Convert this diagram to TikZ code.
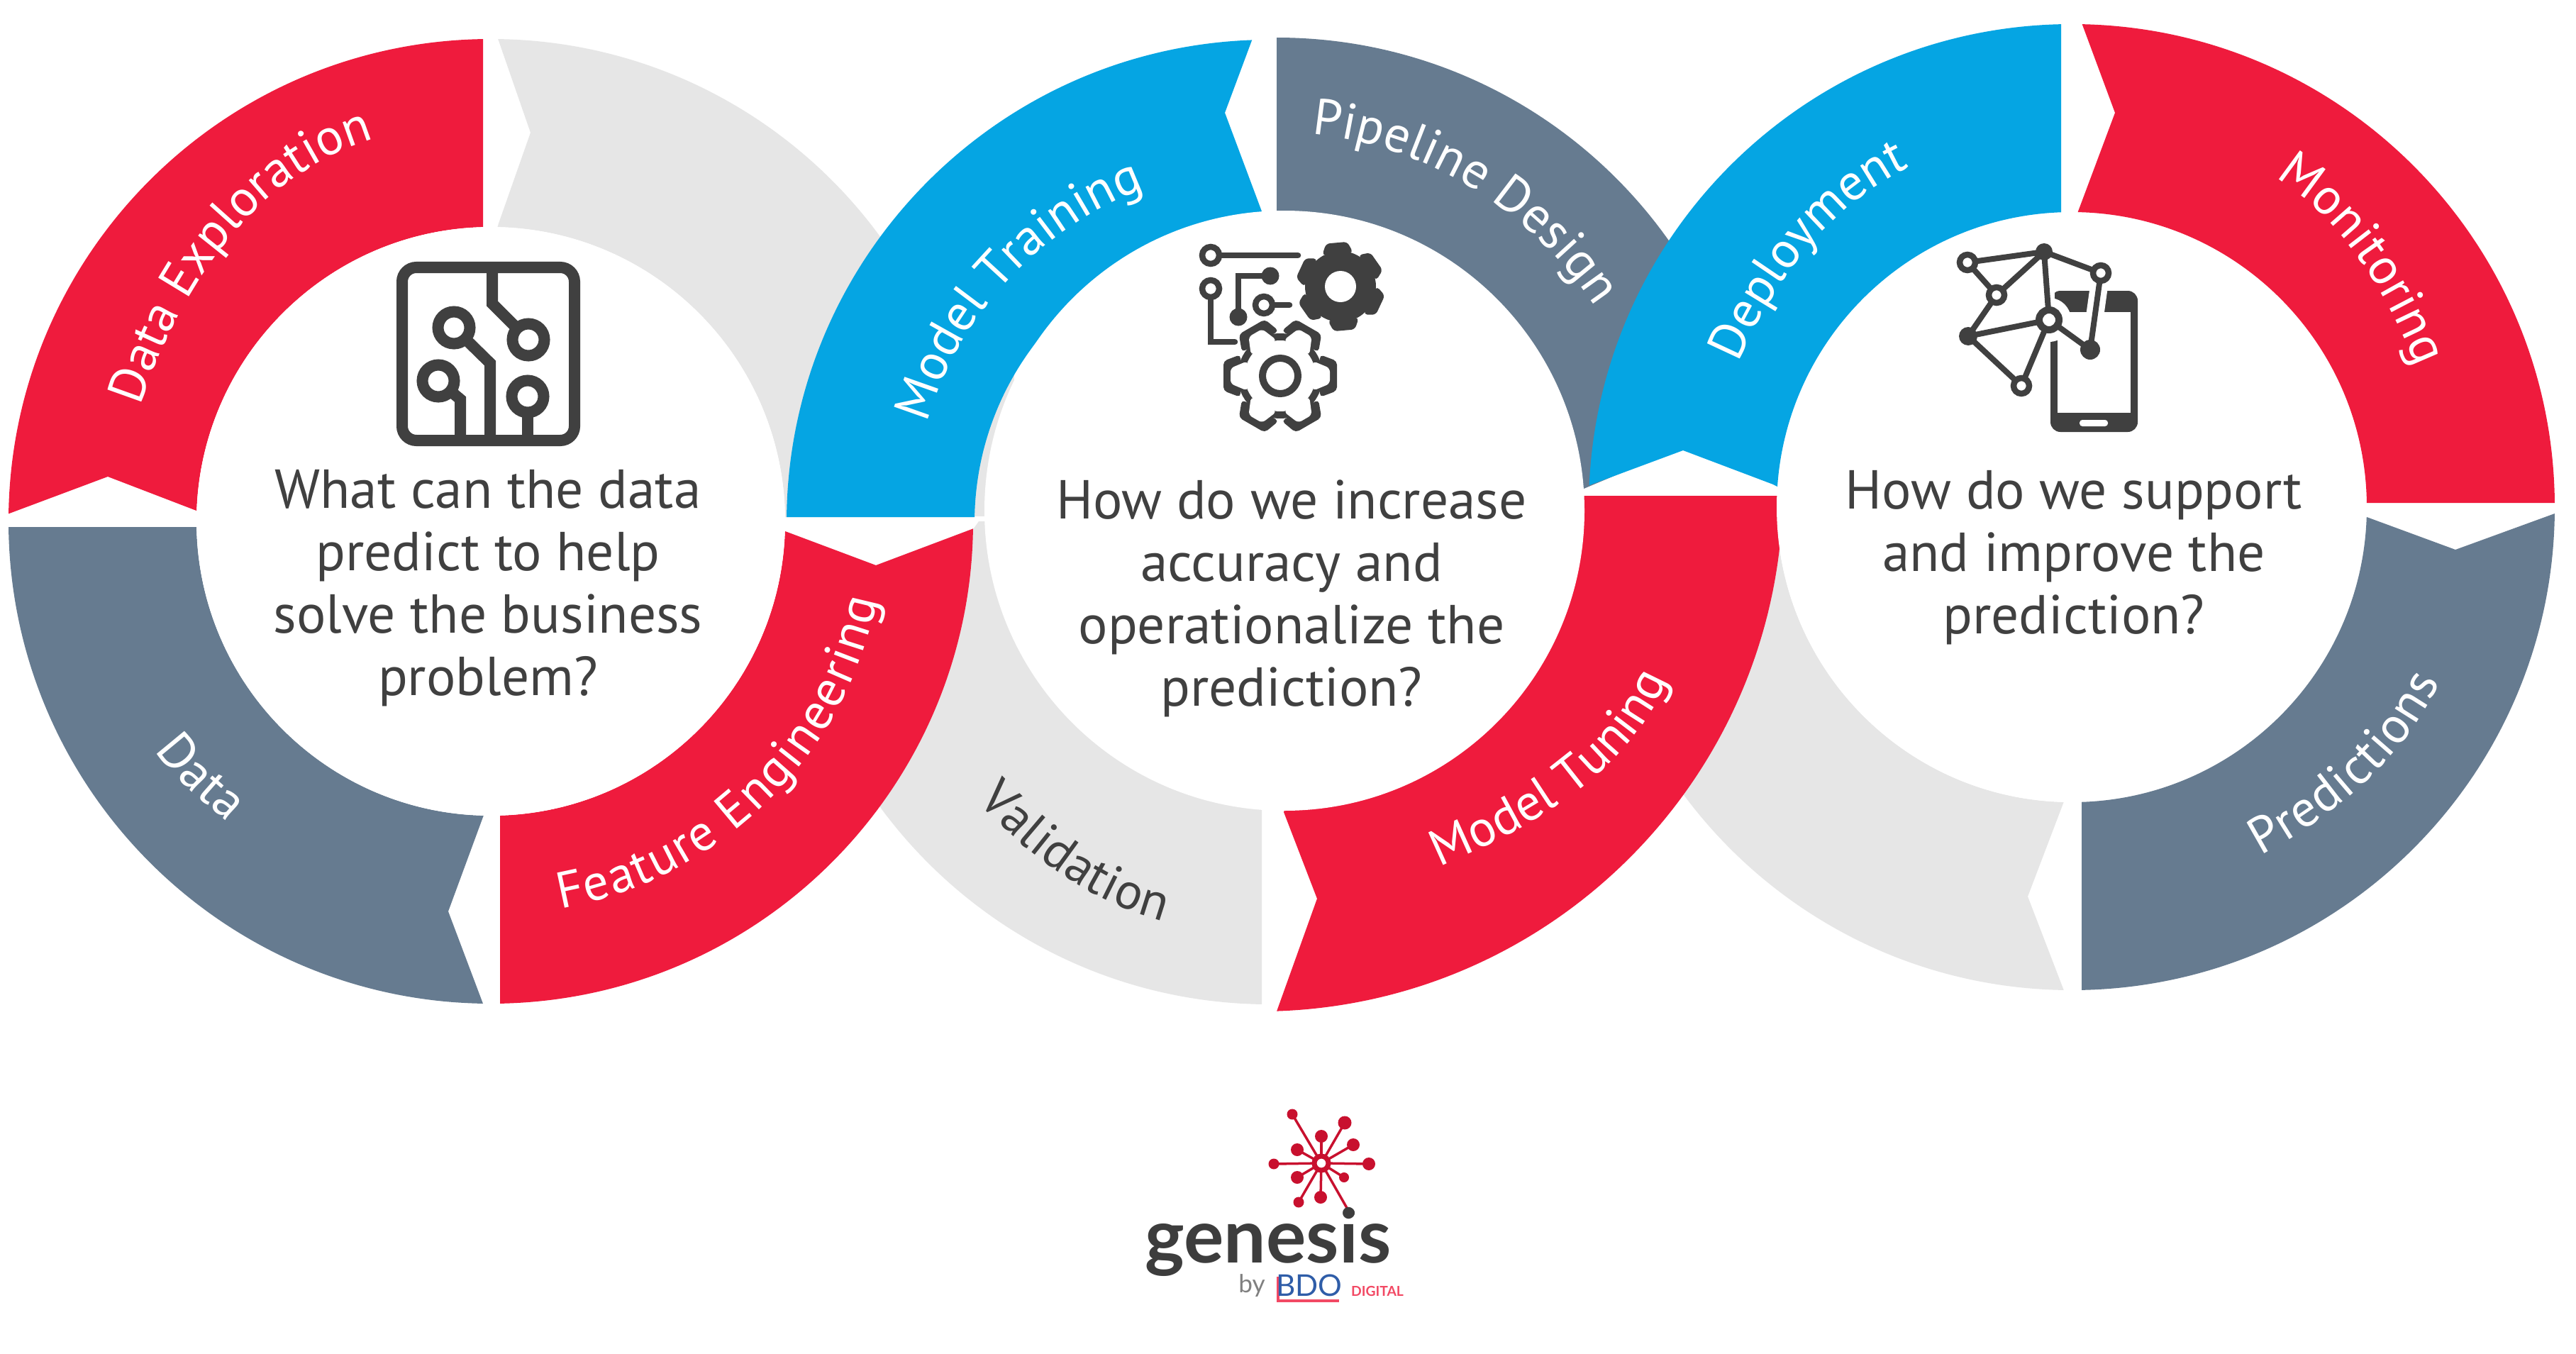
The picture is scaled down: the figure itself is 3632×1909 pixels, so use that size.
\documentclass[tikz,border=0pt]{standalone}
\usepackage{fontspec}
\setmainfont{PT Sans}
\newfontfamily\logofont{Lato}
\usetikzlibrary{decorations.text}
\definecolor{rred}{HTML}{EF1B3D}
\definecolor{slate}{HTML}{667B90}
\definecolor{sky}{HTML}{05A5E3}
\definecolor{pale}{HTML}{E6E6E6}
\definecolor{ink}{HTML}{404040}
\definecolor{lred}{HTML}{C8102E}
\definecolor{bdoblue}{HTML}{2F5DA8}
\newcommand{\ringseg}[6]{\begin{scope}\clip #6;\fill[#1,even odd rule] (#2,#3) circle[radius=#4] (#2,#3) circle[radius=#5];\end{scope}}
% colour, cx, cy, r1, r2, a1, a2, text: baseline runs from (r1,a1) to (r2,a2)
\newcommand{\arclabel}[8]{%
\pgfmathsetmacro{\kk}{4/3*tan((#7-(#6))/4)}%
\pgfmathsetmacro{\sx}{#2+#4*cos(#6)}\pgfmathsetmacro{\sy}{#3+#4*sin(#6)}%
\pgfmathsetmacro{\ex}{#2+#5*cos(#7)}\pgfmathsetmacro{\ey}{#3+#5*sin(#7)}%
\pgfmathsetmacro{\cax}{\sx-\kk*#4*sin(#6)}\pgfmathsetmacro{\cay}{\sy+\kk*#4*cos(#6)}%
\pgfmathsetmacro{\cbx}{\ex+\kk*#5*sin(#7)}\pgfmathsetmacro{\cby}{\ey-\kk*#5*cos(#7)}%
\path[decorate,decoration={text along path,text align={fit to path},text={|\lblfont\color{#1}|#8}}]
 (\sx,\sy) .. controls (\cax,\cay) and (\cbx,\cby) .. (\ex,\ey);}
\newcommand{\lblfont}{\fontsize{20.5}{24}\selectfont}
\newcommand{\gearshape}[8]{% cx cy ro ri offset colour roothalf outerhalf
\begin{scope}[shift={(#1,#2)}]
\fill[#6] (0,0) circle[radius=#4];
\foreach \a in {0,60,...,300}{\begin{scope}[rotate=#5+\a]
\fill[#6,rounded corners=1.5pt] (#4-4,-#7) -- (#3,-#8) -- (#3,#8) -- (#4-4,#7) -- cycle;
\end{scope}}
\end{scope}}
\tikzset{
 ctext/.style={text=ink,font=\fontsize{22}{25}\selectfont,align=center,inner sep=0pt,anchor=base},
 icon/.style={draw=ink,line width=0.16cm},
 thin icon/.style={draw=ink,line width=0.085cm,line cap=round},
 netedge/.style={draw=ink,line width=0.08cm},
 nring/.style={draw=ink,fill=white,line width=0.085cm},
 ndot/.style={fill=ink},
 spoke/.style={draw=lred,line width=0.035cm},
 logodot/.style={fill=lred}
}
\begin{document}
\begin{tikzpicture}[x=0.01cm,y=-0.01cm]
\fill[white] (0,0) rectangle (3632,1909);
\useasboundingbox (0,0) rectangle (3632,1909);
% ---------- greys below everything
\ringseg{pale}{692}{735}{680}{415}{(697,40) -- (748,187) -- (703,315) -- (695,342) -- (695,729) -- (1400,729) -- (1400,40) -- cycle}
\fill[pale] (1360,487) rectangle (1430,728);
\ringseg{pale}{1790}{735}{681}{300}{(1779,1450) -- (1779,735) -- (1380,735) -- (1373,745) -- (1235,797) -- (1107,749) -- (1000,749) -- (1000,1450) -- cycle}
% ---------- ring 1
\ringseg{rred}{692}{735}{680}{415}{(681,-20) -- (-60,-20) -- (-60,747) -- (13,724) -- (152,672) -- (277,720) -- (400,766) -- (681,735) -- cycle}
\ringseg{slate}{692}{735}{680}{415}{(-20,743) -- (691,743) -- (691,1125) -- (681,1152) -- (632,1285) -- (681,1415) -- (700,1465) -- (-20,1465) -- cycle}
\ringseg{rred}{692}{735}{680}{415}{(705,1470) -- (705,830) -- (1090,743) -- (1107,749) -- (1235,797) -- (1373,745) -- (1430,723) -- (1430,1470) -- cycle}
\fill[white] (692,735) circle[radius=415];
% ---------- ring 2 upper
\ringseg{slate}{1800}{730}{677}{300}{(1800,0) -- (1800,689) -- (2233,689) -- (2373,630) -- (2500,0) -- cycle}
\ringseg{sky}{1790}{737}{681}{416}{(1040,729) -- (1790,729) -- (1790,327) -- (1779,298) -- (1727,159) -- (1765,57) -- (1780,17) -- (1040,17) -- cycle}
% ---------- ring 3 grey
\ringseg{pale}{2921}{715}{681}{416}{(2300,725) -- (2925,725) -- (2925,1088) -- (2910,1130) -- (2859,1264) -- (2909,1394) -- (2925,1440) -- (2300,1440) -- cycle}
% model tuning
\ringseg{rred}{1775}{687}{739}{300}{(1815,1130) -- (1810,1145) -- (1857,1267) -- (1800,1426) -- (1790,1450) -- (2600,1450) -- (2600,699) -- (1815,699) -- cycle}
\fill[white] (1811,720) circle[radius=423];
% ring 3 upper and right
\fill[white] (2921,715) circle[radius=416];
\ringseg{sky}{2921}{715}{681}{416}{(2906,0) -- (2906,694) -- (2600,735) -- (2500,683) -- (2373,635) -- (2233,687) -- (2150,717) -- (2150,0) -- cycle}
\ringseg{rred}{2921}{715}{681}{416}{(2936,35) -- (2982,159) -- (2930,298) -- (2921,323) -- (2921,709) -- (3680,709) -- (3680,0) -- (2923,0) -- cycle}
\ringseg{slate}{2921}{715}{681}{416}{(2935,1440) -- (2935,830) -- (3320,723) -- (3337,729) -- (3462,775) -- (3602,724) -- (3680,696) -- (3680,1440) -- cycle}
% ---------- curved labels
\arclabel{white}{692}{735}{520}{564}{198.2}{253.1}{Data Exploration}
\arclabel{white}{692}{735}{573}{564}{145.7}{131.1}{Data}
\arclabel{white}{692}{735}{555}{556}{79.8}{11.5}{Feature Engineering}
\arclabel{white}{1790}{737}{503}{503}{196.2}{248.7}{Model Training}
\arclabel{white}{1800}{730}{543}{538}{275.2}{326.5}{Pipeline Design}
\arclabel{ink}{1790}{735}{571}{584}{136.3}{104.9}{Validation}
\arclabel{white}{1811}{720}{548}{590}{66.5}{25}{Model Tuning}
\arclabel{white}{2921}{715}{512}{531}{203.4}{244.4}{Deployment}
\arclabel{white}{2921}{715}{546}{525}{301.7}{337.3}{Monitoring}
\arclabel{white}{2921}{715}{559}{575}{61.6}{25.4}{Predictions}
% ---------- central texts
\node[ctext] (q1) at (688,980) {What can the data\\predict to help\\solve the business\\problem?};
\node[ctext] (q2) at (1821,995) {How do we increase\\accuracy and\\operationalize the\\prediction?};
\node[ctext] (q3) at (2924,893) {How do we support\\and improve the\\prediction?};
% ---------- icon 1
\draw[icon,rounded corners=0.2cm] (567,377) rectangle (810,621);
\draw[icon] (694,377) -- (694,428) -- (745,479);
\draw[icon] (640,462) -- (691,512) -- (691,621);
\draw[icon] (618,537) -- (649,563) -- (649,621);
\draw[icon] (744,559) -- (744,621);
\foreach \cx/\cy in {640/462,745/479,618/537,744/559}
  \draw[icon,fill=white] (\cx,\cy) circle[radius=22.5];
% ---------- icon 2
\gearshape{1890}{404}{62}{50}{-25}{ink}{22}{15}
\fill[white] (1890,404) circle[radius=22];
\draw[thin icon] (1707,360) -- (1830,360);
\draw[thin icon] (1707,407) -- (1707,482) -- (1741,482);
\draw[thin icon] (1791,389) -- (1746,389) -- (1746,447);
\draw[thin icon] (1782,430) -- (1818,430);
\foreach \cx/\cy in {1707/360,1707/407,1782/430} \draw[thin icon,fill=white] (\cx,\cy) circle[radius=12];
\fill[ink] (1791,389) circle[radius=12.5] (1746,447) circle[radius=12.5];
\gearshape{1805}{530}{80}{60}{0}{ink}{30}{21}
\gearshape{1805}{530}{70}{50}{0}{white}{21}{11}
\draw[ink,line width=0.1cm] (1805,530) circle[radius=25];
% ---------- icon 3 phone
\fill[ink,rounded corners=0.14cm] (2891,410) rectangle (3014,609);
\fill[white] (2901,440) rectangle (3004,582);
\fill[white,rounded corners=0.04cm] (2932,592) rectangle (2972,601);
\fill[white] (2880,400) rectangle (2897,477);
\fill[white] (2889,451) circle[radius=31];
\draw[white,line width=0.25cm] (2962,385) -- (2947,493);
\coordinate (na) at (2774,370);\coordinate (nb) at (2882,355);\coordinate (nc) at (2962,385);
\coordinate (nd) at (2815,416);\coordinate (ne) at (2775,474);\coordinate (nf) at (2889,451);
\coordinate (ng) at (2947,493);\coordinate (nh) at (2850,544);
\draw[netedge] (na)--(nb) (nb)--(nc) (na)--(nd) (nd)--(nb) (nd)--(ne) (ne)--(nf) (ne)--(nh) (nh)--(nf) (nf)--(nb) (nf)--(ng) (ng)--(nc);
\draw[nring] (na) circle[radius=11] (nc) circle[radius=11] (nd) circle[radius=11] (nh) circle[radius=11];
\draw[nring,line width=0.1cm] (nf) circle[radius=14];
\fill[ndot] (nb) circle[radius=12] (ne) circle[radius=13] (ng) circle[radius=14];
% ---------- logo
\coordinate (lc) at (1863,1640);
\foreach \px/\py/\rr in {1822/1571/7.5,1896/1583/9.5,1863/1602/9,1908/1614/9,1829/1621/9,1796/1641/7.5,1930/1641/9,1829/1660/9,1895/1660/7,1831/1695/7.5,1862/1688/9}{
  \draw[spoke] (lc) -- (\px,\py);
  \fill[logodot] (\px,\py) circle[radius=\rr];
}
\draw[spoke] (lc) -- (1903,1710);
\fill[ink] (1903,1710) circle[radius=7];
\draw[lred,fill=white,line width=0.07cm] (lc) circle[radius=10];
\node[anchor=base,inner sep=0pt,text=ink!95!black,font=\logofont\bfseries\fontsize{30}{30}\selectfont] (lg) at (1788,1780) {genesis};
\node[anchor=base,inner sep=0pt,text=gray,font=\logofont\fontsize{10}{10}\selectfont] (lb) at (1765,1822) {by};
\draw[rred!80,line width=0.035cm] (1802,1800) -- (1802,1834) -- (1888,1834);
\node[anchor=base,inner sep=0pt,text=bdoblue,font=\logofont\fontsize{12}{12}\selectfont] (lbdo) at (1846,1827) {BDO};
\node[anchor=base,inner sep=0pt,text=rred!80,font=\logofont\bfseries\fontsize{5.5}{5.5}\selectfont] (ld) at (1942,1827) {DIGITAL};
\end{tikzpicture}
\end{document}
